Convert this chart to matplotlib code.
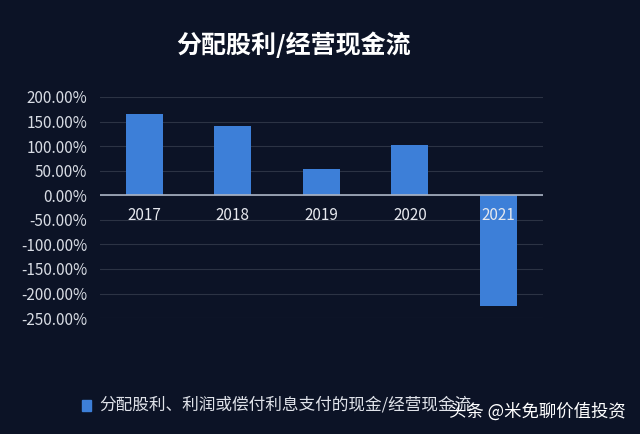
import matplotlib.pyplot as plt
from matplotlib.ticker import FuncFormatter
from matplotlib.patches import Rectangle

plt.rcParams['font.family'] = ['Noto Sans CJK SC', 'DejaVu Sans']

years = ['2017', '2018', '2019', '2020', '2021']
ratio = [165, 140, 53, 102, -226]
yticks = [200, 150, 100, 50, 0, -50, -100, -150, -200, -250]

bg = '#0c1326'
bar_color = '#3d7fd8'

fig = plt.figure(figsize=(6.4, 4.34), dpi=100, facecolor=bg)
ax = fig.add_axes([0.156, 0.267, 0.692, 0.5095], facecolor=bg)

x = list(range(len(years)))
ax.bar(x, ratio, width=0.42, color=bar_color, zorder=2)

ax.set_xlim(-0.5, 4.5)
ax.set_ylim(-250, 200)
ax.set_yticks(yticks)
ax.yaxis.set_major_formatter(FuncFormatter(lambda v, p: f'{v:.2f}%'))
ax.tick_params(axis='y', length=0, colors='#d8dce4', labelsize=11, pad=9)
ax.set_xticks([])
ax.grid(axis='y', color='#2c3344', linewidth=0.8, zorder=0)
ax.axhline(0, color='#aab3c4', linewidth=1.2, zorder=3)
for s in ax.spines.values():
    s.set_visible(False)

for xi, yr in zip(x, years):
    ax.text(xi, -42, yr, ha='center', va='center', color='#e6e8ee', fontsize=11, zorder=4)

fig.text(0.458, 0.896, '分配股利/经营现金流', ha='center', va='center',
         color='white', fontsize=18, fontweight='bold')

fig.patches.append(Rectangle((0.128, 0.053), 0.014, 0.026, transform=fig.transFigure,
                             color=bar_color, figure=fig))
fig.text(0.155, 0.066, '分配股利、利润或偿付利息支付的现金/经营现金流', ha='left',
         va='center', color='#e0e3ea', fontsize=12)
fig.text(0.978, 0.052, '头条 @米免聊价值投资', ha='right', va='center',
         color='white', fontsize=12.5)

fig.savefig('out.png', dpi=100, facecolor=bg)
